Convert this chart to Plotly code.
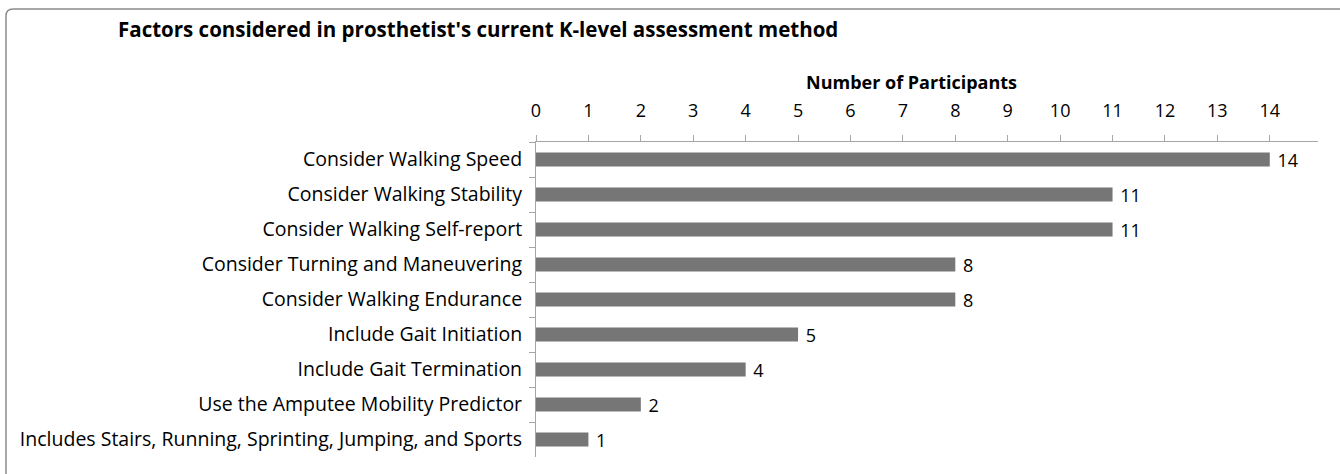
import plotly.graph_objects as go

# factors (top to bottom) and number of participants
factors = [
    'Consider Walking Speed',
    'Consider Walking Stability',
    'Consider Walking Self-report',
    'Consider Turning and Maneuvering',
    'Consider Walking Endurance',
    'Include Gait Initiation',
    'Include Gait Termination',
    'Use the Amputee Mobility Predictor',
    'Includes Stairs, Running, Sprinting, Jumping, and Sports',
]
participants = [14, 11, 11, 8, 8, 5, 4, 2, 1]
x_ticks = list(range(0, 15))

FONT = 'Open Sans'
AXIS_GREY = '#a6a6a6'

# plot area in pixels, used to place the frame around the chart
L, T, W, H = 536, 142, 782, 315


def px(x, y):
    return f'{(x - L) / W:.5f},{1 - (y - T) / H:.5f}'


fig = go.Figure()
fig.add_trace(go.Bar(
    x=participants,
    y=factors,
    orientation='h',
    marker=dict(color='#767676', line_width=0),
    width=0.4,
    text=['\u00a0' + str(v) for v in participants],
    textposition='outside',
    constraintext='none',
    textfont=dict(family=FONT, size=18, color='#000000'),
    cliponaxis=False,
    name='Participants',
))

# outer chart frame (only top and left edges fall inside the picture)
frame = f'M {px(6, 520)} L {px(6, 16)} Q {px(6, 9)} {px(13, 9)} L {px(1400, 9)}'

fig.update_layout(
    width=1340, height=474,
    paper_bgcolor='white', plot_bgcolor='white',
    margin=dict(l=L, r=1340 - L - W, t=T, b=474 - T - H),
    showlegend=False,
    font=dict(family=FONT, size=18, color='#000000'),
    title=dict(
        text="<b>Factors considered in prosthetist's current K-level assessment method</b>",
        font=dict(family=FONT, size=20.5, color='#000000'),
        xref='container', x=118 / 1340, xanchor='left',
        yref='container', y=1 - 30 / 474, yanchor='middle',
    ),
    xaxis=dict(
        side='top',
        range=[0, 14.92],
        tickvals=x_ticks,
        ticktext=[str(t) for t in x_ticks],
        ticks='outside', ticklen=6, tickcolor=AXIS_GREY,
        showline=True, linecolor=AXIS_GREY, linewidth=1,
        showgrid=False, zeroline=False,
        tickfont=dict(family=FONT, size=18),
        ticklabelstandoff=11,
    ),
    yaxis=dict(
        type='category',
        autorange='reversed',
        ticks='outside', ticklen=6, tickcolor=AXIS_GREY,
        tickson='boundaries',
        showline=True, linecolor=AXIS_GREY, linewidth=1,
        showgrid=False, zeroline=False,
        tickfont=dict(family=FONT, size=19.5),
        ticklabelstandoff=9,
    ),
    annotations=[dict(
        text='<b>Number of Participants</b>',
        xref='paper', yref='paper',
        x=(911 - L) / W, y=1 + (T - 82) / H,
        xanchor='center', yanchor='middle',
        showarrow=False,
        font=dict(family=FONT, size=18, color='#000000'),
    )],
    shapes=[dict(
        type='path', xref='paper', yref='paper', path=frame,
        line=dict(color='#8c8c8c', width=1.5),
        layer='below',
    )],
)

fig.write_html('out.html', config={'displayModeBar': False},
               post_script="document.body.style.margin='0';")
